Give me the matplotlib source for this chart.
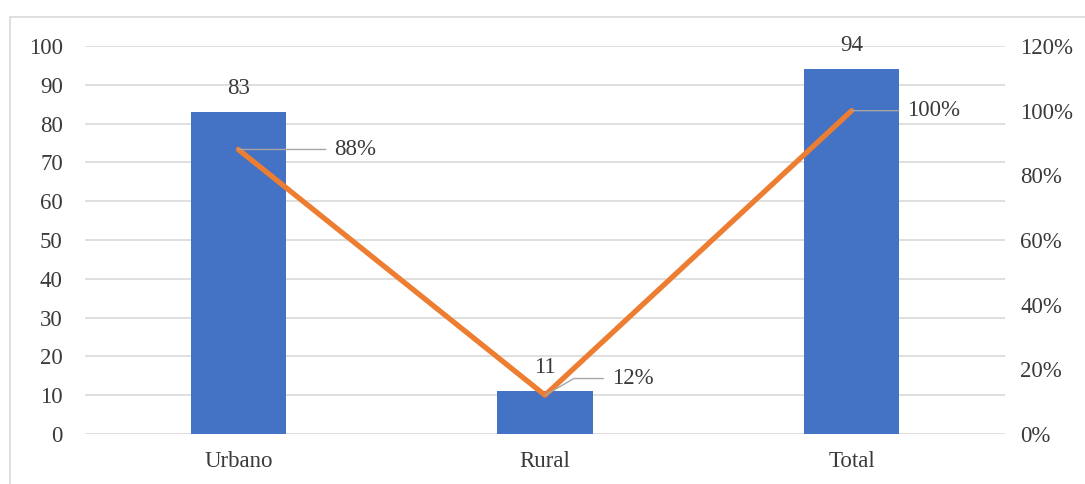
import matplotlib.pyplot as plt
from matplotlib.patches import Rectangle

categorias = ['Urbano', 'Rural', 'Total']
cantidad = [83, 11, 94]
porcentaje = [0.88, 0.12, 1.00]
etiquetas_pct = ['88%', '12%', '100%']

plt.rcParams['font.family'] = ['Liberation Serif', 'DejaVu Serif']
gris_texto = '#3A3A3A'
gris_linea = '#D9D9D9'
fs = 16.5

fig = plt.figure(figsize=(10.85, 4.84), dpi=100)
ax = fig.add_axes([85 / 1085, 50 / 484, 920 / 1085, 388 / 484])

# marco del gráfico
fig.patches.append(Rectangle((10 / 1085, -0.1), 1.2, 1.1 - 17 / 484,
                             transform=fig.transFigure, fill=False,
                             edgecolor='#D9D9D9', linewidth=1.2))

x = list(range(len(categorias)))
barras = ax.bar(x, cantidad, width=0.31, color='#4472C4', zorder=2)
ax.set_xlim(-0.5, 2.5)
ax.set_ylim(0, 100)
ax.set_yticks(range(0, 101, 10))
ax.set_xticks(x)
ax.set_xticklabels(categorias)
ax.grid(axis='y', color=gris_linea, linewidth=1.2, zorder=0)
for s in ax.spines.values():
    s.set_visible(False)
ax.tick_params(axis='both', length=0, labelsize=fs, colors=gris_texto)
ax.tick_params(axis='y', pad=16)
ax.tick_params(axis='x', pad=12)

for xi, v in zip(x, cantidad):
    ax.annotate(str(v), (xi, v), xytext=(0, 17), textcoords='offset points',
                ha='center', va='center', fontsize=fs, color=gris_texto)

ax2 = ax.twinx()
ax2.set_ylim(0, 1.2)
ax2.set_yticks([i / 10 for i in range(0, 13, 2)])
ax2.set_yticklabels([f'{i * 10}%' for i in range(0, 13, 2)])
for s in ax2.spines.values():
    s.set_visible(False)
ax2.tick_params(axis='y', length=0, labelsize=fs, colors=gris_texto, pad=11)
ax2.plot(x, porcentaje, color='#ED7D31', linewidth=3.8, solid_capstyle='round', zorder=3)

# etiquetas de porcentaje con líneas guía
desplaz = [(69, 0), (48, 12), (40, 0)]
for xi, p, t, (dx, dy) in zip(x, porcentaje, etiquetas_pct, desplaz):
    ax2.annotate(t, (xi, p), xytext=(dx, dy), textcoords='offset points',
                 ha='left', va='center', fontsize=fs, color=gris_texto,
                 arrowprops=dict(arrowstyle='-', color='#A6A6A6', lw=1,
                                 shrinkA=4, shrinkB=0,
                                 connectionstyle='angle,angleA=0,angleB=30,rad=0' if dy else 'arc3'))

fig.savefig('out.png', dpi=100)
